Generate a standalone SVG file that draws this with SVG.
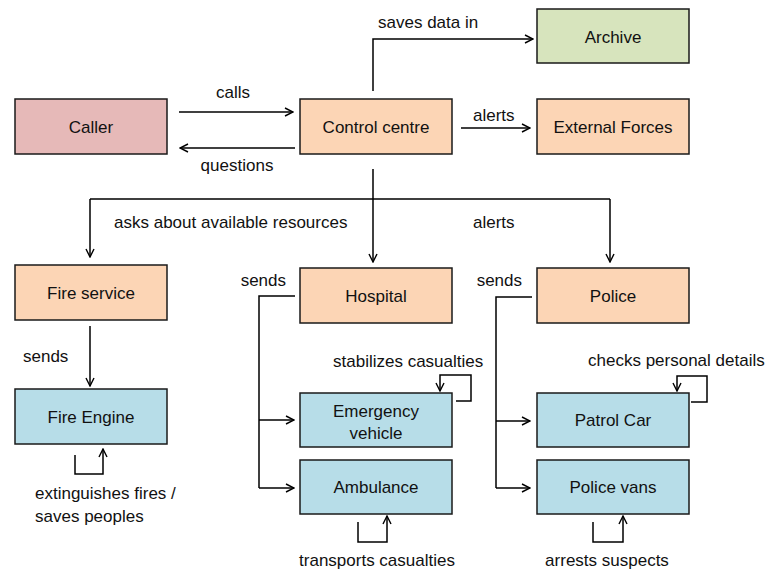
<svg xmlns="http://www.w3.org/2000/svg" width="769" height="572" viewBox="0 0 769 572">
  <defs>
    <marker id="arrow" viewBox="0 0 10 10" refX="9" refY="5" markerWidth="10" markerHeight="10" markerUnits="userSpaceOnUse" orient="auto">
      <path d="M1,1 L9,5 L1,9" fill="none" stroke="#000" stroke-width="1.4"/>
    </marker>
  </defs>
  <style>
    .box { stroke: #1a1a1a; stroke-width: 1.5; }
    .pink { fill: #E6B9B8; }
    .orange { fill: #FCD5B5; }
    .green { fill: #D7E4BD; }
    .blue { fill: #B7DDE8; }
    text { font-family: "Liberation Sans", Arial, sans-serif; font-size: 17px; fill: #111; }
    .c { text-anchor: middle; }
    .e { text-anchor: end; }
    .line { fill: none; stroke: #000; stroke-width: 1.5; }
    .arr { marker-end: url(#arrow); }
  </style>
  <rect width="769" height="572" fill="#fff"/>

  <g id="caller"><rect class="box pink" x="15" y="99" width="152" height="55"/><text class="c" x="91" y="133">Caller</text></g>
  <g id="control-centre"><rect class="box orange" x="300" y="99" width="152" height="55"/><text class="c" x="376" y="133">Control centre</text></g>
  <g id="archive"><rect class="box green" x="537" y="9" width="152" height="54"/><text class="c" x="613" y="43">Archive</text></g>
  <g id="external-forces"><rect class="box orange" x="537" y="99" width="152" height="55"/><text class="c" x="613" y="133">External Forces</text></g>
  <g id="fire-service"><rect class="box orange" x="15" y="265" width="152" height="55"/><text class="c" x="91" y="299">Fire service</text></g>
  <g id="hospital"><rect class="box orange" x="300" y="268" width="152" height="55"/><text class="c" x="376" y="302">Hospital</text></g>
  <g id="police"><rect class="box orange" x="537" y="268" width="152" height="55"/><text class="c" x="613" y="302">Police</text></g>
  <g id="fire-engine"><rect class="box blue" x="15" y="389" width="152" height="55"/><text class="c" x="91" y="423">Fire Engine</text></g>
  <g id="emergency-vehicle"><rect class="box blue" x="300" y="393" width="152" height="54"/><text class="c" x="376" y="417">Emergency</text><text class="c" x="376" y="439">vehicle</text></g>
  <g id="ambulance"><rect class="box blue" x="300" y="460" width="152" height="54"/><text class="c" x="376" y="493">Ambulance</text></g>
  <g id="patrol-car"><rect class="box blue" x="537" y="393" width="152" height="54"/><text class="c" x="613" y="426">Patrol Car</text></g>
  <g id="police-vans"><rect class="box blue" x="537" y="460" width="152" height="54"/><text class="c" x="613" y="493">Police vans</text></g>

  <g id="connectors">
    <path class="line arr" d="M179,112 H293"/>
    <path class="line arr" d="M295,148 H180"/>
    <path class="line arr" d="M373,91 V39 H533"/>
    <path class="line arr" d="M461,128 H530"/>
    <path class="line" d="M373,169 V199 M90,199 H610"/>
    <path class="line arr" d="M90,199 V257"/>
    <path class="line arr" d="M373,199 V262"/>
    <path class="line arr" d="M610,199 V262"/>
    <path class="line arr" d="M90,326 V386"/>
    <path class="line arr" d="M75,455 V474 H103 V449"/>
    <path class="line" d="M295,296 H259 V488"/>
    <path class="line arr" d="M259,420 H294"/>
    <path class="line arr" d="M259,488 H294"/>
    <path class="line arr" d="M456,401 H471 V375 H440 V391"/>
    <path class="line arr" d="M358,522 V542 H387 V516"/>
    <path class="line" d="M532,297 H496 V488"/>
    <path class="line arr" d="M496,421 H530"/>
    <path class="line arr" d="M496,488 H530"/>
    <path class="line arr" d="M691,402 H707 V376 H677 V391"/>
    <path class="line arr" d="M593,522 V542 H623 V516"/>
  </g>

  <g id="labels">
    <text class="c" x="233" y="98">calls</text>
    <text class="c" x="237" y="171">questions</text>
    <text x="378" y="28">saves data in</text>
    <text x="473" y="121">alerts</text>
    <text x="114" y="228">asks about available resources</text>
    <text x="473" y="228">alerts</text>
    <text x="23" y="362">sends</text>
    <text class="e" x="286" y="286">sends</text>
    <text class="e" x="522" y="286">sends</text>
    <text x="333" y="367">stabilizes casualties</text>
    <text x="588" y="366">checks personal details</text>
    <text x="35" y="499">extinguishes fires /</text>
    <text x="35" y="522">saves peoples</text>
    <text class="c" x="377" y="566">transports casualties</text>
    <text class="c" x="607" y="566">arrests suspects</text>
  </g>
</svg>
